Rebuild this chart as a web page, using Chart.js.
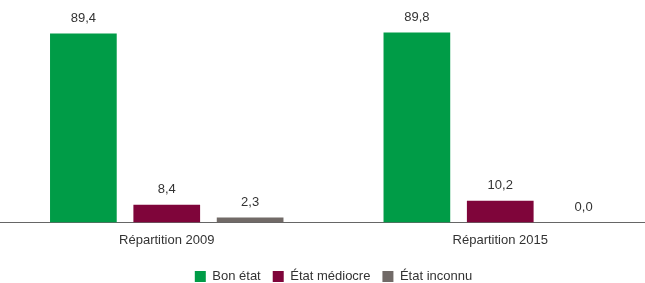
<!DOCTYPE html>
<html>
<head>
<meta charset="utf-8">
<script src="https://cdn.jsdelivr.net/npm/chart.js@4"></script>
<style>
  html, body { margin: 0; padding: 0; background: #fff; overflow: hidden; }
  /* le graphique d'origine déborde un peu à droite et en bas */
  #wrap { width: 667px; height: 293px; }
</style>
</head>
<body>
<div id="wrap"><canvas id="chartEtat"></canvas></div>
<script>
const categories = ["Répartition 2009", "Répartition 2015"];
const bonEtat = [89.4, 89.8];
const etatMediocre = [8.4, 10.2];
const etatInconnu = [2.3, 0.0];

// valeurs au-dessus des barres, avec virgule décimale
const valueLabels = {
  id: "valueLabels",
  afterDatasetsDraw(chart) {
    const ctx = chart.ctx;
    ctx.save();
    ctx.font = "13px 'Liberation Sans', Arial, sans-serif";
    ctx.fillStyle = "#333";
    ctx.textAlign = "center";
    ctx.textBaseline = "middle";
    chart.data.datasets.forEach((ds, i) => {
      chart.getDatasetMeta(i).data.forEach((bar, j) => {
        ctx.fillText(ds.data[j].toFixed(1).replace(".", ","), bar.x, bar.y - 15);
      });
    });
    ctx.restore();
  }
};

Chart.defaults.font.family = "'Liberation Sans', Arial, sans-serif";
Chart.defaults.font.size = 13;
Chart.defaults.color = "#333";

new Chart(document.getElementById("chartEtat"), {
  type: "bar",
  data: {
    labels: categories,
    datasets: [
      { label: "Bon état", data: bonEtat, backgroundColor: "#009c47" },
      { label: "État médiocre", data: etatMediocre, backgroundColor: "#7f053a" },
      { label: "État inconnu", data: etatInconnu, backgroundColor: "#716a67" }
    ]
  },
  options: {
    responsive: true,
    maintainAspectRatio: false,
    animation: false,
    datasets: { bar: { barPercentage: 0.8, categoryPercentage: 0.75 } },
    layout: { padding: { top: 11, left: 0, right: 0, bottom: 0 } },
    plugins: {
      tooltip: { enabled: false },
      legend: {
        position: "bottom",
        labels: { boxWidth: 11, boxHeight: 11, padding: 12, color: "#333" }
      }
    },
    scales: {
      x: {
        grid: { display: false, drawTicks: false },
        border: { display: true, color: "#666", width: 1 },
        ticks: { padding: 10, color: "#333" }
      },
      y: { display: false, min: 0, max: 100 }
    }
  },
  plugins: [valueLabels]
});
</script>
</body>
</html>
